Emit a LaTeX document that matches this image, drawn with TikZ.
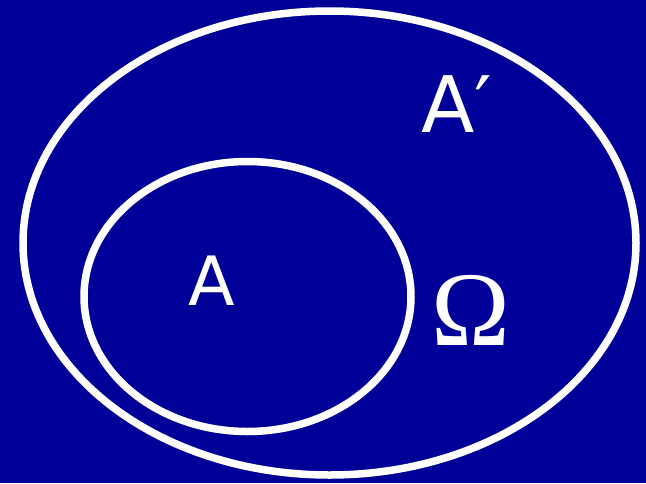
\documentclass[tikz,border=0pt]{standalone}
\usepackage{fontspec}
\usepackage{tikz}
\usetikzlibrary{shapes.geometric}
\setmainfont{DejaVu Sans}
\newfontfamily\omegafont{Liberation Serif}
\definecolor{navy}{HTML}{000099}

\begin{document}
\begin{tikzpicture}[
  x=1pt,y=-1pt,
  set/.style={draw=white,ellipse,line width=7.5pt,inner sep=0pt},
  lbl/.style={text=white,inner sep=0pt,anchor=base}
]
\fill[navy] (0,0) rectangle (646,483);
\useasboundingbox (0,0) rectangle (646,483);

\node[set,minimum width=613pt,minimum height=464pt] (omega) at (329.5,243) {};
\node[set,minimum width=327pt,minimum height=270pt] (a) at (247.5,296.5) {};

\node[lbl,font=\fontsize{68}{68}\selectfont] (alab) at (212,305) {A};
\node[lbl,anchor=base west,font=\fontsize{78}{78}\selectfont] (aclab) at (421,132) {A′};
\node[lbl,font=\omegafont\fontsize{106}{106}\selectfont] (olab) at (471,345) {Ω};
\end{tikzpicture}
\end{document}
